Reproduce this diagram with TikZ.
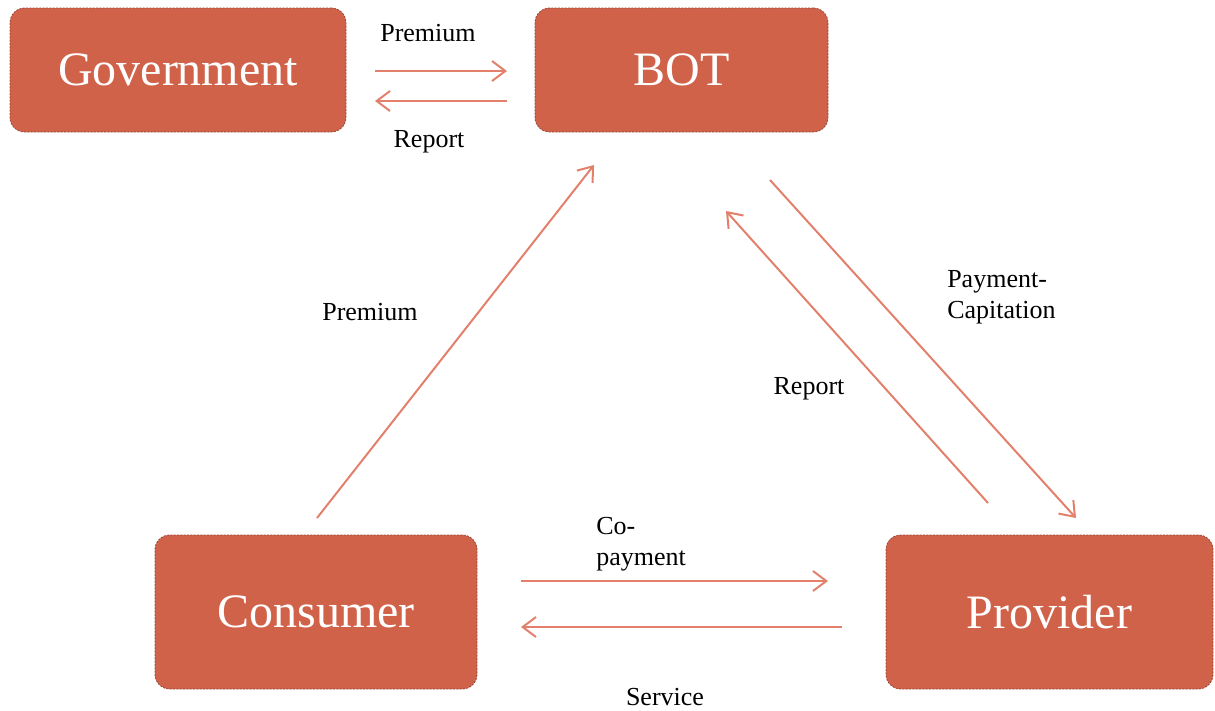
\documentclass[tikz,border=0pt]{standalone}
\usepackage{fontspec}
\setmainfont{Liberation Serif}
\usetikzlibrary{arrows.meta}
\definecolor{boxfill}{RGB}{208,98,74}
\definecolor{boxline}{RGB}{150,70,55}
\definecolor{flow}{RGB}{226,128,108}
\tikzset{
  party/.style={draw=boxline, dash pattern=on 1.5pt off 1pt, line width=0.6pt,
    fill=boxfill, rounded corners=11pt, text=white, inner sep=0pt,
    font=\fontsize{36}{40}\selectfont},
  flowarrow/.style={draw=flow, line width=1.5pt,
    -{Straight Barb[length=10pt,width=15pt]}},
  lbl/.style={font=\fontsize{19.5}{23.25}\selectfont, inner sep=0pt, align=left}
}
\begin{document}
\begin{tikzpicture}[x=0.75pt,y=-0.75pt]
\useasboundingbox (0,0) rectangle (1215,711);
% Akteure
\node[party, minimum width=252pt, minimum height=93pt] (gov) at (178,70) {Government};
\node[party, minimum width=219.75pt, minimum height=93pt] (bot) at (681.5,70) {BOT};
\node[party, minimum width=241.5pt, minimum height=115.5pt] (cons) at (316,612) {Consumer};
\node[party, minimum width=245.25pt, minimum height=115.5pt] (prov) at (1049.5,612) {Provider};
% Endpunkte der Pfeile
\coordinate (govA) at (375,71);   \coordinate (botA) at (507,71);
\coordinate (botB) at (507,101);  \coordinate (govB) at (375,101);
\coordinate (consA) at (317,518); \coordinate (botC) at (594,165);
\coordinate (botD) at (770,180);  \coordinate (provD) at (1076,518);
\coordinate (provE) at (988,503); \coordinate (botE) at (726,211);
\coordinate (consF) at (521,581); \coordinate (provF) at (828,581);
\coordinate (provG) at (842,627); \coordinate (consG) at (521,627);
% Zahlungs- und Informationsfluesse
\draw[flowarrow] (govA) -- (botA);
\draw[flowarrow] (botB) -- (govB);
\draw[flowarrow] (consA) -- (botC);
\draw[flowarrow] (botD) -- (provD);
\draw[flowarrow] (provE) -- (botE);
\draw[flowarrow] (consF) -- (provF);
\draw[flowarrow] (provG) -- (consG);
% Beschriftungen
\node[lbl] (l1) at (428,33) {Premium};
\node[lbl] (l2) at (429,142) {Report};
\node[lbl] (l3) at (370,312) {Premium};
\node[lbl, anchor=west] (l4) at (947,297) {Payment-\\Capitation};
\node[lbl] (l5) at (809,389) {Report};
\node[lbl, anchor=west] (l6) at (596,544) {Co-\\payment};
\node[lbl] (l7) at (665,697) {Service};
\end{tikzpicture}
\end{document}
